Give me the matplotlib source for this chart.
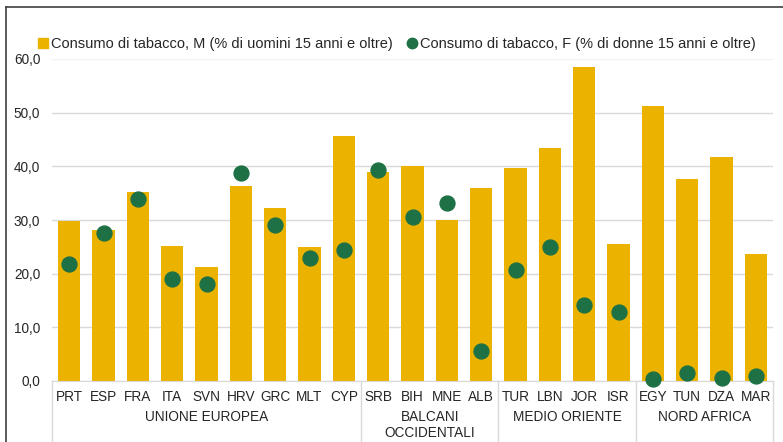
import matplotlib
matplotlib.use("Agg")
import matplotlib.pyplot as plt
from matplotlib.lines import Line2D
from matplotlib.ticker import FuncFormatter
from matplotlib.transforms import blended_transform_factory

plt.rcParams['font.family'] = ['Liberation Sans', 'DejaVu Sans']
plt.rcParams['font.size'] = 9.8

countries = ["PRT", "ESP", "FRA", "ITA", "SVN", "HRV", "GRC", "MLT", "CYP",
             "SRB", "BIH", "MNE", "ALB",
             "TUR", "LBN", "JOR", "ISR",
             "EGY", "TUN", "DZA", "MAR"]
male = [29.8, 28.1, 35.3, 25.1, 21.2, 36.4, 32.3, 24.9, 45.7,
        38.9, 40.0, 30.0, 35.9,
        39.7, 43.4, 58.5, 25.6,
        51.3, 37.6, 41.7, 23.7]
female = [21.8, 27.5, 34.0, 19.0, 18.0, 38.8, 29.0, 22.9, 24.4,
          39.3, 30.5, 33.1, 5.6,
          20.6, 24.9, 14.1, 12.9,
          0.3, 1.5, 0.6, 0.9]
groups = ["UNIONE EUROPEA", "BALCANI\nOCCIDENTALI", "MEDIO ORIENTE", "NORD AFRICA"]
group_sizes = [9, 4, 4, 4]

label_m = "Consumo di tabacco, M (% di uomini 15 anni e oltre)"
label_f = "Consumo di tabacco, F (% di donne 15 anni e oltre)"

gold = "#EBB300"
green = "#1E7145"
grid_c = "#D9D9D9"
text_c = "#262626"

W, H = 783, 442
fig = plt.figure(figsize=(W / 100, H / 100), dpi=100)
ax = fig.add_axes([52 / W, (H - 381) / H, (773 - 52) / W, (381 - 59) / H])

x = list(range(len(countries)))
ax.bar(x, male, width=0.66, color=gold, zorder=2)
ax.scatter(x, female, s=115, color=green, zorder=3, clip_on=False)

ax.set_xlim(-0.5, len(countries) - 0.5)
ax.set_ylim(0, 60)
ax.set_yticks(range(0, 61, 10))
ax.yaxis.set_major_formatter(FuncFormatter(lambda v, p: f"{v:.1f}".replace(".", ",")))
ax.yaxis.grid(True, color=grid_c, linewidth=1, zorder=0)
ax.get_ygridlines()[-1].set_color("#F2F2F2")
ax.set_axisbelow(True)
for s in ["top", "right", "left"]:
    ax.spines[s].set_visible(False)
ax.spines["bottom"].set_color(grid_c)
ax.tick_params(axis="y", length=0, pad=8.5, labelcolor=text_c)
ax.set_xticks(x)
ax.set_xticklabels(countries, color=text_c)
ax.tick_params(axis="x", length=0, pad=6.5)

# group separators and labels
tr = blended_transform_factory(ax.transData, fig.transFigure)
bounds = [-0.5]
for n in group_sizes:
    bounds.append(bounds[-1] + n)
for b in bounds:
    fig.add_artist(Line2D([b, b], [0, (H - 381) / H], transform=tr, color=grid_c, linewidth=1))
for g, a, b in zip(groups, bounds[:-1], bounds[1:]):
    fig.text((a + b) / 2, (H - 410) / H, g, transform=tr, ha="center", va="top",
             color=text_c, linespacing=1.2)

# frame around the chart
fig.add_artist(Line2D([6 / W, 6 / W], [0, (H - 7) / H], color="#404040", linewidth=1.2))
fig.add_artist(Line2D([6 / W, 1], [(H - 7) / H, (H - 7) / H], color="#404040", linewidth=1.2))

handles = [Line2D([], [], marker="s", linestyle="", color=gold, markersize=7),
           Line2D([], [], marker="o", linestyle="", color=green, markersize=7.5)]
fig.legend(handles, [label_m, label_f], loc="center", bbox_to_anchor=(396 / W, (H - 44) / H),
           ncol=2, frameon=False, handletextpad=0.05, columnspacing=0.8,
           handlelength=1.0, labelcolor=text_c, fontsize=10.5)

fig.savefig("out.png", dpi=100)
